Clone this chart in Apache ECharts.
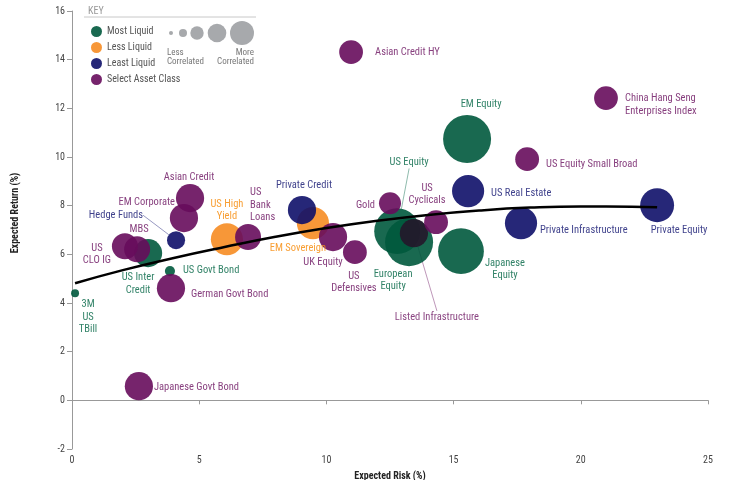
<!DOCTYPE html>
<html><head><meta charset="utf-8">
<script src="https://cdn.jsdelivr.net/npm/echarts@6/dist/echarts.min.js"></script>
<style>html,body{margin:0;padding:0;background:#fff}#c{width:737px;height:480px}</style>
</head><body><div id="c"></div>
<script>
// ---------- DATA ----------
const categories = ['Most Liquid', 'Less Liquid', 'Least Liquid', 'Select Asset Class'];
const assetNames = [
  '3M\nUS\nTBill', 'US Govt Bond', 'US Inter\nCredit', 'MBS', 'US\nCLO IG', 'Hedge Funds',
  'EM Corporate', 'Asian Credit', 'German Govt Bond', 'Japanese Govt Bond', 'US High\nYield',
  'US\nBank\nLoans', 'Private Credit', 'EM Sovereign', 'UK Equity', 'US\nDefensives', 'Gold',
  'US Equity', 'European\nEquity', 'Listed Infrastructure', 'US\nCyclicals', 'Japanese\nEquity',
  'US Real Estate', 'EM Equity', 'US Equity Small Broad', 'China Hang Seng\nEnterprises Index',
  'Private Infrastructure', 'Private Equity', 'Asian Credit HY'
];
const assetCategory = [0, 0, 0, 3, 3, 2, 3, 3, 3, 3, 1, 3, 2, 1, 3, 3, 3, 0, 0, 3, 3, 0, 2, 0, 3, 3, 2, 2, 3];
const expectedRisk = [0.12, 3.85, 2.99, 2.56, 2.08, 4.09, 4.40, 4.64, 3.89, 2.63, 6.09, 6.92, 9.04, 9.47, 10.26, 11.12, 12.50, 12.78, 13.25, 13.44, 14.31, 15.29, 15.57, 15.53, 17.89, 20.99, 17.65, 23.0, 10.97];
const expectedReturn = [4.40, 5.31, 6.05, 6.21, 6.33, 6.58, 7.49, 8.31, 4.61, 0.58, 6.62, 6.71, 7.82, 7.28, 6.71, 6.09, 8.10, 6.95, 6.50, 6.87, 7.32, 6.13, 8.60, 10.74, 9.91, 12.42, 7.28, 8.02, 14.31];
const correlation = [0.09, 0.14, 0.55, 0.5, 0.5, 0.32, 0.55, 0.55, 0.55, 0.55, 0.64, 0.5, 0.55, 0.64, 0.55, 0.45, 0.41, 0.95, 1.0, 0.55, 0.45, 0.95, 0.64, 1.0, 0.45, 0.45, 0.64, 0.68, 0.45];
const trendRisk = [0.12, 2, 4, 6, 8, 10, 12, 14, 16, 18, 20, 22, 23];
const trendReturn = [4.81, 5.35, 5.85, 6.3, 6.72, 7.08, 7.38, 7.62, 7.8, 7.92, 7.97, 7.96, 7.93];
const xTickInterval = 5, xMin = 0, xMax = 25;
const yTickInterval = 2, yMin = -2, yMax = 16;

// ---------- STYLE / LAYOUT ----------
const fillColors = ['#00593d', '#f68c22', '#0e1069', '#670c5c'];
const textColors = ['#1b7457', '#f7941d', '#2b2d80', '#7a2a70'];
const FONT = "'Roboto Condensed','Liberation Sans Narrow','Arial Narrow',Roboto,sans-serif";
// label offset from bubble centre (px), alignment, leader line
const labelPlacement = {
  '3M\nUS\nTBill': [13, 24, 'center'],
  'US Govt Bond': [13, -1, 'left'],
  'US Inter\nCredit': [-10, 31, 'center'],
  'MBS': [2, -20, 'center'],
  'US\nCLO IG': [-28, 8, 'center'],
  'Hedge Funds': [-33, -25, 'right', true],
  'EM Corporate': [-9, -16, 'right'],
  'Asian Credit': [-1, -21, 'center'],
  'German Govt Bond': [20, 6, 'left'],
  'Japanese Govt Bond': [15, 1, 'left'],
  'US High\nYield': [0, -29, 'center'],
  'US\nBank\nLoans': [2, -32, 'left'],
  'Private Credit': [2, -25, 'center'],
  'EM Sovereign': [-15, 25, 'center'],
  'UK Equity': [-10, 25, 'center'],
  'US\nDefensives': [-1, 30, 'center'],
  'Gold': [-15, 2, 'right'],
  'US Equity': [12, -69, 'center', true],
  'European\nEquity': [-16, 38, 'center'],
  'Listed Infrastructure': [23, 84, 'center', true],
  'US\nCyclicals': [-9, -28, 'center'],
  'Japanese\nEquity': [44, 18, 'center'],
  'US Real Estate': [23, 2, 'left'],
  'EM Equity': [14, -35, 'center'],
  'US Equity Small Broad': [19, 5, 'left'],
  'China Hang Seng\nEnterprises Index': [19, 7, 'left'],
  'Private Infrastructure': [19, 7, 'left'],
  'Private Equity': [22, 25, 'center'],
  'Asian Credit HY': [24, 0, 'left']
};
const specialFill = { 'Listed Infrastructure': '#24152a' };
const bubbleSize = c => 4 + c * 44;

const chart = echarts.init(document.getElementById('c'), null, { renderer: 'canvas' });

const seriesIdx = categories.map(() => []);
assetNames.forEach((n, i) => seriesIdx[assetCategory[i]].push(i));

const scatterSeries = categories.map((cat, ci) => ({
  name: cat,
  type: 'scatter',
  xAxisIndex: 0, yAxisIndex: 0,
  z: 3,
  itemStyle: { color: fillColors[ci], opacity: 0.9 },
  emphasis: { disabled: true },
  label: {
    show: true, position: 'inside', formatter: p => p.name,
    color: textColors[ci], fontFamily: FONT, fontSize: 10.5, lineHeight: 12.5
  },
  labelLine: { show: false, lineStyle: { color: textColors[ci], width: 0.7, opacity: 0.7 } },
  labelLayout: function (p) {
    const idx = seriesIdx[ci][p.dataIndex];
    const pl = labelPlacement[assetNames[idx]];
    const cx = p.rect.x + p.rect.width / 2, cy = p.rect.y + p.rect.height / 2;
    return { x: cx + pl[0], y: cy + pl[1], align: pl[2], verticalAlign: 'middle' };
  },
  data: seriesIdx[ci].map(i => {
    const nm = assetNames[i];
    const item = {
      name: nm,
      value: [expectedRisk[i], expectedReturn[i], correlation[i]],
      symbolSize: bubbleSize(correlation[i])
    };
    if (labelPlacement[nm][3]) item.labelLine = { show: true };
    if (specialFill[nm]) item.itemStyle = { color: specialFill[nm], opacity: 0.88 };
    return item;
  })
}));

const sizeLegend = [[171, 2], [183, 4], [197, 6.7], [217, 9.3], [242, 12]];

chart.setOption({
  animation: false,
  grid: { left: 72, right: 29, top: 11, bottom: 31, containLabel: false, outerBoundsMode: 'none' },
  legend: {
    orient: 'vertical', left: 86, top: 21, itemGap: 5,
    icon: 'circle', itemWidth: 11, itemHeight: 11,
    textStyle: { color: '#555', fontSize: 10, fontFamily: FONT },
    data: categories, selectedMode: false
  },
  xAxis: [
    {
      type: 'value', min: xMin, max: xMax, interval: xTickInterval, position: 'bottom',
      axisLine: { show: false, onZero: false }, axisTick: { show: false }, splitLine: { show: false },
      axisLabel: { color: '#444', fontSize: 10, fontFamily: FONT, margin: 6 },
      name: 'Expected Risk (%)', nameLocation: 'middle', nameGap: 22,
      nameTextStyle: { color: '#222', fontWeight: 'bold', fontSize: 10, fontFamily: FONT }
    },
    {
      type: 'value', min: xMin, max: xMax, interval: xTickInterval, position: 'top',
      axisLine: { show: true, onZero: true, lineStyle: { color: '#999', width: 1 } },
      axisTick: { show: true, inside: true, length: 4, lineStyle: { color: '#999' } },
      axisLabel: { show: false }, splitLine: { show: false }
    }
  ],
  yAxis: {
    type: 'value', min: yMin, max: yMax, interval: yTickInterval,
    axisLine: { show: true, onZero: false, lineStyle: { color: '#999', width: 1 } },
    axisTick: { show: true, length: 5, lineStyle: { color: '#999' } },
    splitLine: { show: false },
    axisLabel: { color: '#444', fontSize: 10, fontFamily: FONT, margin: 7 },
    name: 'Expected Return (%)', nameLocation: 'middle', nameGap: 52,
    nameTextStyle: { color: '#222', fontWeight: 'bold', fontSize: 10, fontFamily: FONT, padding: [0, 0, 0, 34] }
  },
  graphic: [
    { type: 'text', left: 88, top: 6, style: { text: 'KEY', fill: '#999', fontSize: 10, fontFamily: FONT } },
    { type: 'line', shape: { x1: 84, y1: 17, x2: 256, y2: 17 }, style: { stroke: '#c8c8c8', lineWidth: 1 } },
    ...sizeLegend.map(([x, r]) => ({ type: 'circle', shape: { cx: x, cy: 33, r: r }, style: { fill: '#a7a9ac' } })),
    { type: 'text', x: 167, y: 48, style: { text: 'Less\nCorrelated', fill: '#777', fontSize: 9, lineHeight: 9, fontFamily: FONT, align: 'left' } },
    { type: 'text', x: 254, y: 48, style: { text: 'More\nCorrelated', fill: '#777', fontSize: 9, lineHeight: 9, fontFamily: FONT, align: 'right' } }
  ],
  series: [
    ...scatterSeries,
    {
      type: 'line', name: 'trend', xAxisIndex: 0, yAxisIndex: 0, z: 5,
      data: trendRisk.map((x, i) => [x, trendReturn[i]]),
      smooth: true, showSymbol: false, silent: true,
      lineStyle: { color: '#000', width: 2.5 }
    }
  ]
});
</script>
</body></html>
